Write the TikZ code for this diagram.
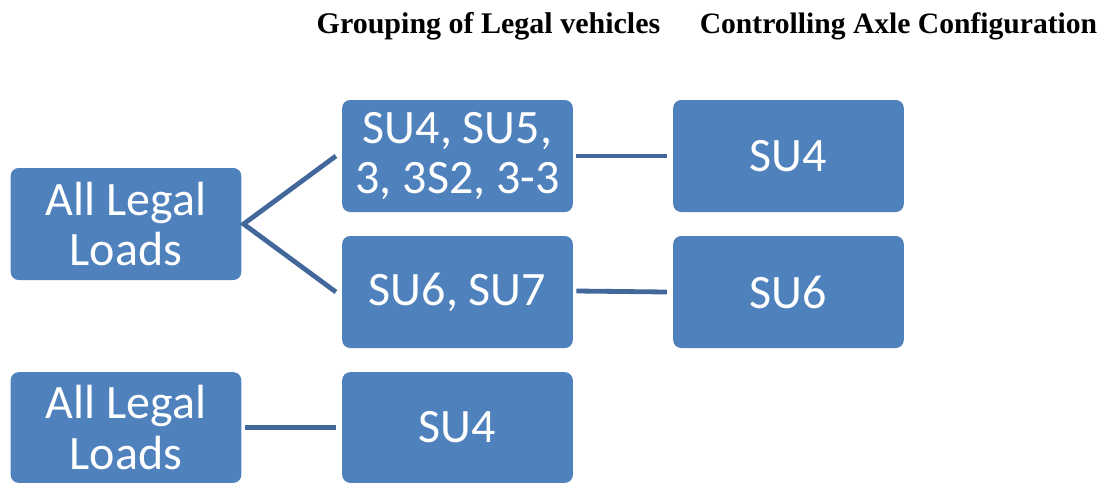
\documentclass[tikz,border=0pt]{standalone}
\usepackage{fontspec}
\setmainfont{Liberation Serif}
\newfontfamily\boxfont{Carlito}
\definecolor{boxblue}{HTML}{4F81BD}
\definecolor{linkblue}{HTML}{41679B}
\tikzset{
    loadbox/.style={fill=boxblue, rounded corners=6pt, text=white, align=center,
        minimum width=173pt, minimum height=84pt, inner sep=0pt,
        font=\boxfont\fontsize{36}{38}\selectfont},
    link/.style={draw=linkblue, line width=3.6pt},
    heading/.style={font=\bfseries\fontsize{22.5}{24}\selectfont, anchor=base}
}
\begin{document}
\begin{tikzpicture}[x=0.75pt, y=-0.75pt]
    \useasboundingbox (0, 0) rectangle (1109, 483);

    % Column headings
    \node[heading] (hgroup) at (488.5, 33) {Grouping of Legal vehicles};
    \node[heading, font=\bfseries\fontsize{22.2}{24}\selectfont] (hctrl) at (898.5, 33) {Controlling Axle Configuration};

    % Upper tree: all legal loads split in two groups
    \node[loadbox] (all1) at (126, 224) {All Legal\\Loads};
    \node[loadbox] (grp1) at (457.5, 156) {SU4, SU5,\\3, 3S2, 3-3};
    \node[loadbox] (grp2) at (457.5, 292) {SU6, SU7};
    \node[loadbox] (ctl1) at (788.5, 156) {SU4};
    \node[loadbox] (ctl2) at (788.5, 292) {SU6};

    % Lower tree
    \node[loadbox, minimum height=83pt] (all2) at (126, 427.5) {All Legal\\Loads};
    \node[loadbox, minimum height=83pt] (grp3) at (457.5, 427.5) {SU4};

    % Connectors
    \draw[link] ([xshift=-4.5pt]grp1.west) -- ([xshift=1.5pt]all1.east) -- ([xshift=-4.5pt]grp2.west);
    \draw[link] ([xshift=2.5pt]grp1.east) -- ([xshift=-4.5pt]ctl1.west);
    \draw[link] ([xshift=2.5pt, yshift=0.75pt]grp2.east) -- ([xshift=-4.5pt]ctl2.west);
    \draw[link] ([xshift=2.5pt]all2.east) -- ([xshift=-4.5pt]grp3.west);
\end{tikzpicture}
\end{document}
